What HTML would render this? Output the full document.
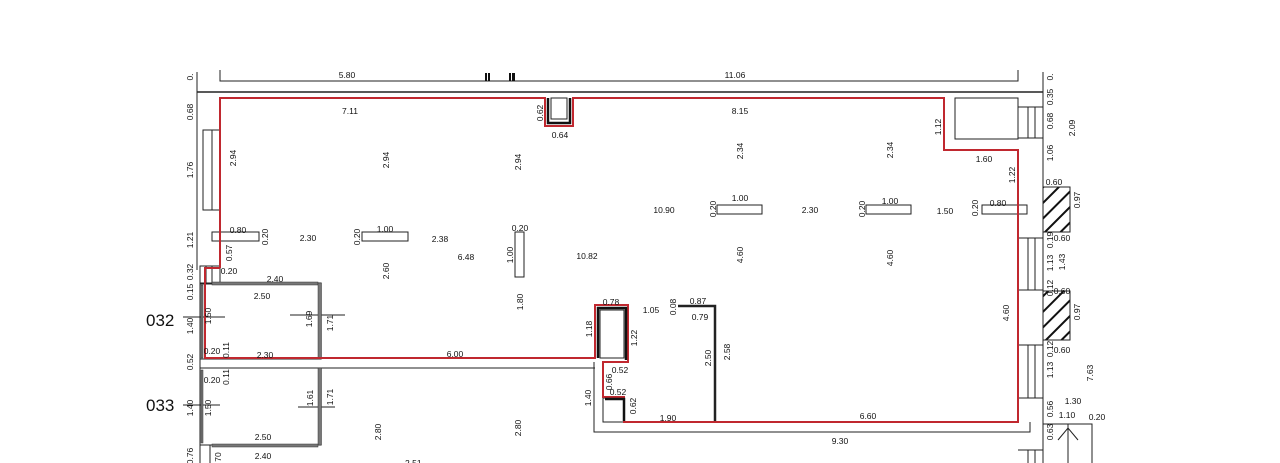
<!DOCTYPE html>
<html><head><meta charset="utf-8"><style>
html,body{margin:0;padding:0;background:#fff;}
svg{display:block;}
text{font-family:"Liberation Sans",sans-serif;font-size:8.5px;fill:#111;}
.big{font-size:17px;}
</style></head><body>
<svg width="1280" height="463" viewBox="0 0 1280 463" xmlns="http://www.w3.org/2000/svg">
<defs>
<pattern id="h" width="11" height="11" patternUnits="userSpaceOnUse" patternTransform="rotate(45)">
<rect width="11" height="11" fill="#fff"/><rect x="0" y="0" width="2" height="11" fill="#111"/>
</pattern>
</defs>
<g fill="none" stroke="#222" stroke-width="1">
<polyline points="220,70 220,81 1018,81 1018,70"/>
<line x1="197" y1="92" x2="1043" y2="92" stroke-width="1.5"/>
<line x1="197" y1="72" x2="197" y2="270"/>
<line x1="1043" y1="72" x2="1043" y2="463"/>
<rect x="203" y="130" width="17" height="80"/>
<line x1="212" y1="130" x2="212" y2="210"/>
<rect x="200" y="266" width="20" height="18"/>
<line x1="206" y1="266" x2="206" y2="284"/><line x1="212" y1="266" x2="212" y2="284"/>
<rect x="200" y="283" width="121" height="76"/>
<rect x="200" y="368" width="121" height="77"/>
<line x1="200" y1="358" x2="200" y2="463"/>
<line x1="210" y1="445" x2="210" y2="463"/>
<line x1="210" y1="368" x2="595" y2="368"/>
<line x1="210" y1="358" x2="595" y2="358"/>
<polyline points="594,362 594,432 1030,432 1030,422"/>
<rect x="603" y="398" width="21" height="24"/>
<line x1="183" y1="317" x2="225" y2="317"/><line x1="290" y1="315" x2="345" y2="315"/>
<line x1="183" y1="405" x2="220" y2="405"/><line x1="298" y1="407" x2="335" y2="407"/>
<rect x="212" y="232" width="47" height="9"/>
<rect x="362" y="232" width="46" height="9"/>
<rect x="515" y="232" width="9" height="45"/>
<rect x="717" y="205" width="45" height="9"/>
<rect x="866" y="205" width="45" height="9"/>
<rect x="982" y="205" width="45" height="9"/>
<rect x="955" y="98" width="63" height="41"/>
<rect x="1018" y="107" width="25" height="31"/>
<line x1="1028" y1="107" x2="1028" y2="138"/><line x1="1035" y1="107" x2="1035" y2="138"/>
<rect x="1018" y="238" width="25" height="52"/>
<line x1="1028" y1="238" x2="1028" y2="290"/><line x1="1035" y1="238" x2="1035" y2="290"/>
<rect x="1018" y="345" width="25" height="53"/>
<line x1="1028" y1="345" x2="1028" y2="398"/><line x1="1035" y1="345" x2="1035" y2="398"/>
<rect x="1043" y="187" width="27" height="45" fill="url(#h)"/>
<rect x="1043" y="291" width="27" height="49" fill="url(#h)"/>
<rect x="1043" y="424" width="49" height="41"/>
<line x1="1068" y1="424" x2="1068" y2="463"/>
<polyline points="1058,440 1068,428 1078,440"/>
<line x1="1018" y1="450" x2="1043" y2="450"/><line x1="1028" y1="450" x2="1028" y2="463"/><line x1="1035" y1="450" x2="1035" y2="463"/>
<polyline points="678,306 715,306 715,422" stroke-width="2.5"/>
</g>
<g fill="#777" stroke="#333" stroke-width="0.5">
<rect x="212" y="282" width="106" height="3"/>
<rect x="318" y="283" width="3.5" height="76"/>
<rect x="318" y="368" width="3.5" height="77"/>
<rect x="212" y="444" width="106" height="3"/>
<rect x="201" y="285" width="2" height="73"/>
<rect x="201" y="370" width="2" height="73"/>
</g>
<g fill="#111">
<rect x="485" y="73" width="2" height="8"/><rect x="488" y="73" width="2" height="8"/>
<rect x="509" y="73" width="2" height="8"/><rect x="512" y="73" width="3" height="8"/>
</g>
<g fill="none" stroke="#c0282f" stroke-width="2">
<polyline points="220,268 220,98 545,98 545,126 573,126 573,98 944,98 944,150 1018,150 1018,422 624,422 624,397 603,397 603,362 628,362 628,305 595,305 595,358 205,358 205,268 220,268"/>
</g>
<g fill="none" stroke="#111" stroke-width="2.5">
<polyline points="548,98 548,123 570,123 570,98"/>
<polyline points="598,358 598,308 626,308 626,360"/>
<polyline points="605,399 624,399 624,421"/>
</g>
<rect x="551" y="98" width="16" height="21" fill="none" stroke="#222"/>
<rect x="600" y="310" width="24" height="48" fill="none" stroke="#222"/>
<text class="big" x="146" y="326">032</text>
<text class="big" x="146" y="411">033</text>
<g text-anchor="middle">
<text x="347" y="78">5.80</text><text x="735" y="78">11.06</text>
<text x="350" y="114">7.11</text><text x="560" y="138">0.64</text><text x="740" y="114">8.15</text>
<text x="984" y="162">1.60</text><text x="238" y="233">0.80</text><text x="308" y="241">2.30</text>
<text x="385" y="232">1.00</text><text x="440" y="242">2.38</text><text x="466" y="260">6.48</text>
<text x="520" y="231">0.20</text><text x="587" y="259">10.82</text><text x="664" y="213">10.90</text>
<text x="740" y="201">1.00</text><text x="810" y="213">2.30</text><text x="890" y="204">1.00</text>
<text x="945" y="214">1.50</text><text x="998" y="206">0.80</text><text x="229" y="274">0.20</text>
<text x="275" y="282">2.40</text><text x="262" y="299">2.50</text><text x="212" y="354">0.20</text>
<text x="265" y="358">2.30</text><text x="455" y="357">6.00</text><text x="611" y="305">0.78</text>
<text x="651" y="313">1.05</text><text x="698" y="304">0.87</text><text x="700" y="320">0.79</text>
<text x="620" y="373">0.52</text><text x="618" y="395">0.52</text><text x="668" y="421">1.90</text>
<text x="868" y="419">6.60</text><text x="840" y="444">9.30</text><text x="212" y="383">0.20</text>
<text x="263" y="440">2.50</text><text x="263" y="459">2.40</text><text x="1054" y="185">0.60</text>
<text x="1062" y="241">0.60</text><text x="1062" y="294">0.60</text><text x="1062" y="353">0.60</text>
<text x="1073" y="404">1.30</text><text x="1067" y="418">1.10</text><text x="1097" y="420">0.20</text>
</g>
<g text-anchor="middle">
<text transform="translate(193,77) rotate(-90)">0.</text>
<text transform="translate(193,112) rotate(-90)">0.68</text>
<text transform="translate(193,170) rotate(-90)">1.76</text>
<text transform="translate(193,240) rotate(-90)">1.21</text>
<text transform="translate(193,272) rotate(-90)">0.32</text>
<text transform="translate(193,292) rotate(-90)">0.15</text>
<text transform="translate(193,326) rotate(-90)">1.40</text>
<text transform="translate(193,362) rotate(-90)">0.52</text>
<text transform="translate(193,408) rotate(-90)">1.40</text>
<text transform="translate(193,456) rotate(-90)">0.76</text>
<text transform="translate(236,158) rotate(-90)">2.94</text>
<text transform="translate(389,160) rotate(-90)">2.94</text>
<text transform="translate(521,162) rotate(-90)">2.94</text>
<text transform="translate(543,113) rotate(-90)">0.62</text>
<text transform="translate(268,237) rotate(-90)">0.20</text>
<text transform="translate(232,253) rotate(-90)">0.57</text>
<text transform="translate(360,237) rotate(-90)">0.20</text>
<text transform="translate(513,255) rotate(-90)">1.00</text>
<text transform="translate(389,271) rotate(-90)">2.60</text>
<text transform="translate(523,302) rotate(-90)">1.80</text>
<text transform="translate(211,316) rotate(-90)">1.50</text>
<text transform="translate(312,319) rotate(-90)">1.69</text>
<text transform="translate(333,323) rotate(-90)">1.71</text>
<text transform="translate(229,350) rotate(-90)">0.11</text>
<text transform="translate(229,377) rotate(-90)">0.11</text>
<text transform="translate(211,408) rotate(-90)">1.50</text>
<text transform="translate(313,398) rotate(-90)">1.61</text>
<text transform="translate(333,397) rotate(-90)">1.71</text>
<text transform="translate(381,432) rotate(-90)">2.80</text>
<text transform="translate(521,428) rotate(-90)">2.80</text>
<text transform="translate(591,398) rotate(-90)">1.40</text>
<text transform="translate(592,329) rotate(-90)">1.18</text>
<text transform="translate(637,338) rotate(-90)">1.22</text>
<text transform="translate(612,382) rotate(-90)">0.66</text>
<text transform="translate(636,406) rotate(-90)">0.62</text>
<text transform="translate(676,307) rotate(-90)">0.08</text>
<text transform="translate(711,358) rotate(-90)">2.50</text>
<text transform="translate(730,352) rotate(-90)">2.58</text>
<text transform="translate(743,151) rotate(-90)">2.34</text>
<text transform="translate(893,150) rotate(-90)">2.34</text>
<text transform="translate(743,255) rotate(-90)">4.60</text>
<text transform="translate(893,258) rotate(-90)">4.60</text>
<text transform="translate(716,209) rotate(-90)">0.20</text>
<text transform="translate(865,209) rotate(-90)">0.20</text>
<text transform="translate(978,208) rotate(-90)">0.20</text>
<text transform="translate(941,127) rotate(-90)">1.12</text>
<text transform="translate(1015,175) rotate(-90)">1.22</text>
<text transform="translate(1009,313) rotate(-90)">4.60</text>
<text transform="translate(1053,77) rotate(-90)">0.</text>
<text transform="translate(1053,97) rotate(-90)">0.35</text>
<text transform="translate(1053,121) rotate(-90)">0.68</text>
<text transform="translate(1053,153) rotate(-90)">1.06</text>
<text transform="translate(1075,128) rotate(-90)">2.09</text>
<text transform="translate(1080,200) rotate(-90)">0.97</text>
<text transform="translate(1053,240) rotate(-90)">0.19</text>
<text transform="translate(1053,263) rotate(-90)">1.13</text>
<text transform="translate(1065,262) rotate(-90)">1.43</text>
<text transform="translate(1053,288) rotate(-90)">0.12</text>
<text transform="translate(1080,312) rotate(-90)">0.97</text>
<text transform="translate(1053,349) rotate(-90)">0.12</text>
<text transform="translate(1053,370) rotate(-90)">1.13</text>
<text transform="translate(1093,373) rotate(-90)">7.63</text>
<text transform="translate(1053,409) rotate(-90)">0.56</text>
<text transform="translate(1053,432) rotate(-90)">0.63</text>
<text transform="translate(221,457) rotate(-90)">70</text>
</g>
<text x="405" y="466">2.51</text>
</svg>
</body></html>
